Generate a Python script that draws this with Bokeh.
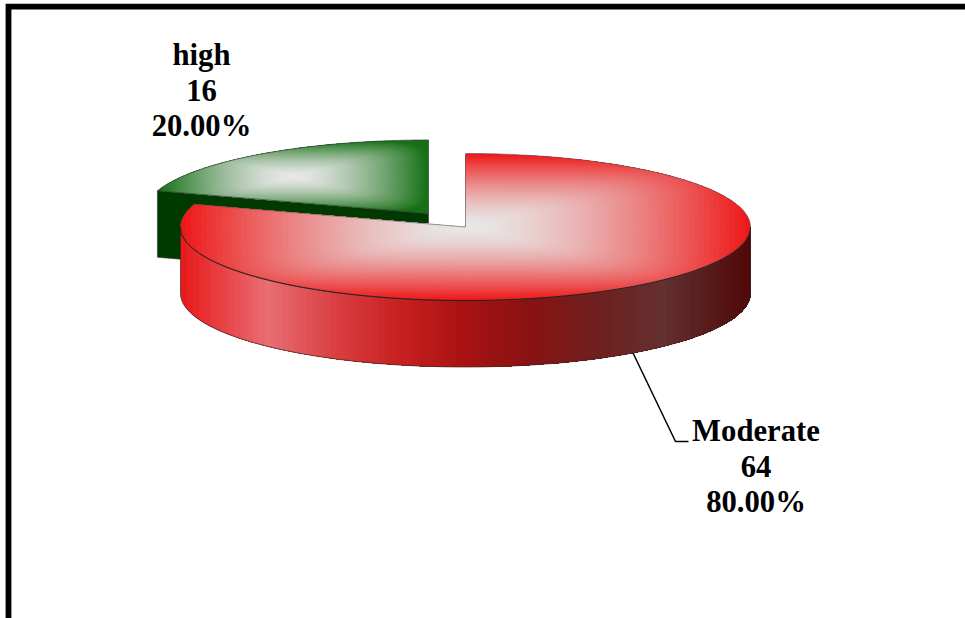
import numpy as np
from bokeh.core.properties import value
from bokeh.embed import file_html
from bokeh.models import ColumnDataSource, Range1d
from bokeh.plotting import figure
from bokeh.resources import INLINE

# Chart data
categories = ["high", "Moderate"]
counts = [16, 64]

# Shading stops for the side wall of the large slice (x position -> colour)
wall_stop_x = [180, 267, 340, 400, 465, 530, 600, 663, 705, 750]
wall_stop_rgb = [
    (232, 24, 24), (232, 110, 116), (216, 60, 62), (200, 32, 32), (168, 18, 18),
    (136, 18, 18), (110, 32, 32), (101, 48, 48), (88, 28, 28), (80, 8, 8),
]

W, H = 965, 618
A, B = 285.0, 73.5      # ellipse semi-axes of the pie top
DEPTH = 66.5            # wall height
CENTER_RED = (465.0, 226.5)
CENTER_GREEN = (428.0, 213.0)
PALETTE = {
    "Moderate": {"edge": (238, 24, 24), "mid": (232, 232, 232)},
    "high": {"edge": (22, 112, 22), "mid": (232, 232, 232)},
}
WALL_GREEN = "#013a01"
SHADE_GAMMA = 1.5
CONTOUR_POWER = 6.0

share = np.array(counts) / sum(counts)
sweep_mod = share[1] * 2 * np.pi    # clockwise from 12 o'clock
sweep_high = share[0] * 2 * np.pi


def rim(center, t0, t1, n=160):
    """Points on the top ellipse for clockwise angles from 12 o'clock."""
    t = np.linspace(t0, t1, n)
    return center[0] + A * np.sin(t), center[1] - B * np.cos(t)


def clip_edge(pts, a, b):
    """Keep the part of a polygon on the positive side of the directed line a -> b."""
    if len(pts) == 0:
        return pts
    ex, ey = b[0] - a[0], b[1] - a[1]
    d = ex * (pts[:, 1] - a[1]) - ey * (pts[:, 0] - a[0])
    if (d >= 0).all():
        return pts
    out = []
    n = len(pts)
    for i in range(n):
        j = (i + 1) % n
        if d[i] >= 0:
            out.append(pts[i])
        if (d[i] >= 0) != (d[j] >= 0):
            out.append(pts[i] + (pts[j] - pts[i]) * d[i] / (d[i] - d[j]))
    return np.array(out) if out else np.empty((0, 2))


def clip_right_of(xs, ys, limit):
    """Part of a polygon to the right of a vertical line."""
    pts = clip_edge(np.column_stack([xs, ys]), (limit, 1.0), (limit, 0.0))
    return pts[:, 0], pts[:, 1]


def to_hex(rgb):
    return "#%02x%02x%02x" % tuple(int(round(c)) for c in rgb)


def shaded(xs, ys, edge, mid, levels=56, sides=40):
    """Nested pieces of a polygon, shaded over its bounds with rounded-box contours."""
    x0, x1, y0, y1 = xs.min(), xs.max(), ys.min(), ys.max()
    cx, cy = (x0 + x1) / 2, (y0 + y1) / 2
    hw, hh = (x1 - x0) / 2, (y1 - y0) / 2
    ang = np.linspace(0, 2 * np.pi, sides, endpoint=False)
    unit_x = np.sign(np.cos(ang)) * np.abs(np.cos(ang)) ** (2 / CONTOUR_POWER)
    unit_y = np.sign(np.sin(ang)) * np.abs(np.sin(ang)) ** (2 / CONTOUR_POWER)
    base = np.column_stack([xs, ys])
    out_x, out_y, out_c = [], [], []
    for k in range(levels, 0, -1):
        f = k / levels
        # the outermost contour is stretched so the whole slice is covered
        s = f * (1.3 if k == levels else 1.0)
        cont_x = cx + hw * s * unit_x
        cont_y = cy + hh * s * unit_y
        pts = base
        for i in range(sides):
            j = (i + 1) % sides
            pts = clip_edge(pts, (cont_x[i], cont_y[i]), (cont_x[j], cont_y[j]))
            if len(pts) == 0:
                break
        if len(pts) < 3:
            continue
        w = f ** SHADE_GAMMA
        col = [m + (e - m) * w for e, m in zip(edge, mid)]
        out_x.append(pts[:, 0].tolist())
        out_y.append(pts[:, 1].tolist())
        out_c.append(to_hex(col))
    return out_x, out_y, out_c


p = figure(width=W, height=H, x_range=Range1d(0, W), y_range=Range1d(H, 0),
           output_backend="svg", toolbar_location=None, min_border=0,
           x_axis_type=None, y_axis_type=None, outline_line_color=None,
           background_fill_color="white", border_fill_color="white")
p.grid.visible = False

# Small slice, pulled out from the pie: its cut face, then its top
gx, gy = rim(CENTER_GREEN, sweep_mod, 2 * np.pi)
gx_top = np.r_[CENTER_GREEN[0], gx]
gy_top = np.r_[CENTER_GREEN[1], gy]
p.patch([gx[0], CENTER_GREEN[0], CENTER_GREEN[0], gx[0]],
        [gy[0], CENTER_GREEN[1], CENTER_GREEN[1] + DEPTH, gy[0] + DEPTH],
        fill_color=WALL_GREEN, line_color="#333333", line_width=0.6)
a, b, c = shaded(gx_top, gy_top, PALETTE["high"]["edge"], PALETTE["high"]["mid"])
p.patches(a, b, fill_color=c, line_color=None)
p.patch(gx_top, gy_top, fill_alpha=0, line_color="#3a3a3a", line_width=0.7)

# Side wall of the large slice, painted in vertical bands from left to right
fx, fy = rim(CENTER_RED, np.pi * 2 - np.pi / 2, np.pi / 2, 240)
wall_x = np.r_[fx, fx[::-1]]
wall_y = np.r_[fy, fy[::-1] + DEPTH]
band_edges = np.arange(180, 750, 6)
wall_xs, wall_ys, wall_cs = [], [], []
for bx in band_edges:
    px, py = clip_right_of(wall_x, wall_y, float(bx))
    rgb = [np.interp(bx + 3, wall_stop_x, [s[i] for s in wall_stop_rgb]) for i in range(3)]
    wall_xs.append(px.tolist())
    wall_ys.append(py.tolist())
    wall_cs.append(to_hex(rgb))
p.patches(wall_xs, wall_ys, fill_color=wall_cs, line_color=None)
p.patch(wall_x, wall_y, fill_alpha=0, line_color="#3a2a2a", line_width=0.7)

# Top of the large slice
rx, ry = rim(CENTER_RED, 0, sweep_mod, 260)
rx_top = np.r_[CENTER_RED[0], rx]
ry_top = np.r_[CENTER_RED[1], ry]
a, b, c = shaded(rx_top, ry_top, PALETTE["Moderate"]["edge"], PALETTE["Moderate"]["mid"])
p.patches(a, b, fill_color=c, line_color=None)
p.patch(rx_top, ry_top, fill_alpha=0, line_color="#555555", line_width=0.6)
p.line(fx, fy, line_color="#1a1a1a", line_width=0.9)

# Leader from the middle of the large slice's wall to its label
mid_angle = sweep_mod / 2
lead_x = CENTER_RED[0] + A * np.sin(mid_angle)
lead_y = CENTER_RED[1] - B * np.cos(mid_angle) + DEPTH
p.line([lead_x, 675, 688], [lead_y, 441, 441], line_color="black", line_width=1.5)

# Frame, open towards the right and the bottom
p.line([8, 8, W], [H, 6.2, 6.2], line_color="black", line_width=5.8, line_join="miter")

# Three-line slice labels
label_anchor = {"high": (201, 54), "Moderate": (755.5, 430)}
LINE_STEP = 35.5
tx, ty, tt = [], [], []
for name, count, frac in zip(categories, counts, share):
    ax, ay = label_anchor[name]
    for j, line in enumerate([name, str(count), f"{frac * 100:.2f}%"]):
        tx.append(ax)
        ty.append(ay + j * LINE_STEP)
        tt.append(line)
p.text(x="x", y="y", text="t", source=ColumnDataSource(dict(x=tx, y=ty, t=tt)),
       text_font=value("Liberation Serif"), text_font_style="bold", text_font_size="30.7px",
       text_color="black", text_align="center", text_baseline="alphabetic")

open("out.html", "w").write(file_html(p, INLINE))
